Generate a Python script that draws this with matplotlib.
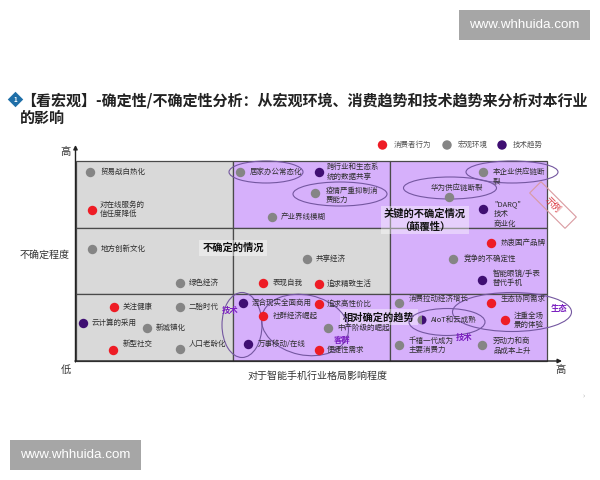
import matplotlib
matplotlib.use('Agg')
import matplotlib.pyplot as plt
from matplotlib.patches import Rectangle, Ellipse, Wedge
import matplotlib.transforms as mtrans

plt.rcParams['font.family'] = ['Noto Sans CJK SC', 'DejaVu Sans']

# labels, one per point, with \n where the reference wraps
labels = ['贸易战白热化', '对在线服务的\n信任度降低', '地方创新文化', '绿色经济', '关注健康', '二胎时代',
          '云计算的采用', '新城镇化', '新型社交', '人口老龄化',
          '居家办公常态化', '跨行业和生态系\n统的数据共享', '疫情严重抑制消\n费能力', '产业界线模糊', '共享经济',
          '表现自我', '追求精致生活', '混合现实全面商用', '追求高性价比', '社群经济崛起', '中产阶级的崛起',
          '万事移动/在线', '便捷性需求',
          '本企业供应链断\n裂', '华为供应链断裂', '"DARQ"\n技术\n商业化', '热衷国产品牌', '竞争的不确定性',
          '智能眼镜/手表\n替代手机', '消费拉动经济增长', '生态协同需求', 'AIoT和云成熟', '注重全场\n景的体验',
          '千禧一代成为\n主要消费力', '劳动力和商\n品成本上升']
# point positions
point_x = [90, 91.5, 91.5, 180, 113.5, 180, 83, 147, 113, 180,
           240, 318.5, 315, 271.5, 307, 263, 318.5, 243, 318.5, 263, 328, 248, 318.5,
           482.5, 449, 482.5, 491, 453, 482, 399, 491, 422, 505, 399, 482]
point_y = [172, 210, 249, 283, 307, 307, 323, 328, 350, 349,
           172, 172, 193, 217, 259, 283, 284, 303, 304, 316, 328, 344, 350,
           172, 197, 209, 243, 259, 280, 303, 303, 320, 320, 345, 345]
# r = consumer, g = macro, p = tech, m = half macro half tech
kinds = ['g', 'r', 'g', 'g', 'r', 'g', 'p', 'g', 'r', 'g',
         'g', 'p', 'g', 'g', 'g', 'r', 'r', 'p', 'r', 'r', 'g', 'p', 'r',
         'g', 'g', 'p', 'r', 'g', 'p', 'g', 'r', 'm', 'r', 'g', 'g']
# label anchor: left edge and vertical centre of the text block
label_x = [100, 100, 100.5, 189, 123, 189, 92, 156, 123, 189,
           250, 327, 326, 281, 316, 273, 327, 252, 327, 273, 337, 258, 327,
           493, 431, 494, 501, 464, 493, 409, 501, 431, 514, 409, 493]
label_y = [172, 209.5, 249, 283, 307, 307, 323, 328, 344, 344,
           172, 171.5, 195.5, 217, 259, 283, 284, 303, 304, 316, 328, 344, 350,
           176.5, 188, 214, 243, 259, 278.5, 299, 299, 320, 320.5, 345.5, 346]

legend_names = ['消费者行为', '宏观环境', '技术趋势']
legend_x = [382.5, 447, 502]
colors = {'r': '#ee1c25', 'g': '#858585', 'p': '#3f0f72'}

col_edges = [75.5, 233, 390, 547]
row_edges = [161, 228, 294, 361]
# cell fill: rows from top, columns from left
cell_kind = [['g', 'p', 'p'], ['g', 'g', 'p'], ['g', 'p', 'p']]
cell_colors = {'g': '#d9d9d9', 'p': '#d6b0fb'}

# center x, center y, width, height, angle
ellipses = [(266, 172, 74, 22, 0), (340, 194, 94, 24, 0), (512, 172, 92, 22, 0), (450, 188, 93, 22, 0),
            (242, 325, 40, 65, 0), (305, 325, 88, 60, 12), (447, 322, 76, 27, 0), (512, 312, 119, 39, 0)]
tag_names = ['技术', '客群', '技术', '生态']
tag_x = [230, 342, 464, 559]
tag_y = [310, 340, 337, 309]

fig = plt.figure(figsize=(6, 4.8), dpi=100)
ax = fig.add_axes([0, 0, 1, 1])
ax.set_xlim(0, 600)
ax.set_ylim(480, 0)
ax.axis('off')

for r in range(3):
    for c in range(3):
        ax.add_patch(Rectangle((col_edges[c], row_edges[r]), col_edges[c + 1] - col_edges[c],
                               row_edges[r + 1] - row_edges[r], fc=cell_colors[cell_kind[r][c]],
                               ec='#4a4a4a', lw=0.9, zorder=1))

# axes arrows
ax.annotate('', xy=(75.5, 145), xytext=(75.5, 362), zorder=2,
            arrowprops=dict(arrowstyle='-|>', color='#222222', lw=1, mutation_scale=6, shrinkA=0, shrinkB=0))
ax.annotate('', xy=(562, 361), xytext=(75, 361), zorder=2,
            arrowprops=dict(arrowstyle='-|>', color='#222222', lw=1, mutation_scale=6, shrinkA=0, shrinkB=0))

# quadrant captions on pale boxes, under the points and labels
captions = ['不确定的情况', '关键的不确定情况\n（颠覆性）', '相对确定的趋势']
caption_x = [233, 425, 379]
caption_y = [248, 220, 317]
for t, x, y in zip(captions, caption_x, caption_y):
    ax.text(x, y, t, fontsize=7.4, weight='bold', color='#111111', ha='center', va='center', linespacing=1.3,
            zorder=3.5, bbox=dict(fc='white', ec='none', alpha=0.4, pad=2))

for cx, cy, w, h, ang in ellipses:
    ax.add_patch(Ellipse((cx, cy), w, h, angle=ang, fill=False, ec='#7457a0', lw=0.8, zorder=3.7))

for x, y, k in zip(point_x, point_y, kinds):
    if k == 'm':
        ax.add_patch(Wedge((x, y), 4.5, 90, 270, fc=colors['g'], ec='none', zorder=4))
        ax.add_patch(Wedge((x, y), 4.5, -90, 90, fc=colors['p'], ec='none', zorder=4))
    else:
        ax.scatter([x], [y], s=46, color=colors[k], linewidths=0, zorder=4)

for t, x, y in zip(labels, label_x, label_y):
    ax.text(x, y, t, fontsize=5.4, color='#2e2e2e', ha='left', va='center', linespacing=1.3, zorder=5)

for t, x, y in zip(tag_names, tag_x, tag_y):
    ax.text(x, y, t, fontsize=6, weight='bold', color='#7a1fc0', ha='center', va='center', zorder=6)

# legend row
ax.scatter(legend_x, [145] * 3, s=46, color=[colors['r'], colors['g'], colors['p']], linewidths=0, zorder=4)
for t, x in zip(legend_names, legend_x):
    ax.text(x + 11, 145, t, fontsize=5.4, color='#555555', ha='left', va='center')

# axis words
ax.text(66, 152, '高', fontsize=7.4, color='#333333', ha='center', va='center')
ax.text(66, 370, '低', fontsize=7.4, color='#333333', ha='center', va='center')
ax.text(561, 370, '高', fontsize=7.4, color='#333333', ha='center', va='center')
ax.text(45, 255, '不确定程度', fontsize=7.2, color='#333333', ha='center', va='center')
ax.text(318, 376, '对于智能手机行业格局影响程度', fontsize=7.2, color='#333333', ha='center', va='center')

# title with bullet
ax.scatter([15], [99], s=62, marker='D', color='#1f6fa8', linewidths=0, zorder=4)
ax.text(15, 99, '1', fontsize=4.6, weight='bold', color='white', ha='center', va='center', zorder=5)
ax.text(21, 100, '【看宏观】-确定性/不确定性分析：从宏观环境、消费趋势和技术趋势来分析对本行业',
        fontsize=10.85, weight='bold', color='#222222', ha='left', va='center')
ax.text(20, 117.5, '的影响', fontsize=10.85, weight='bold', color='#222222', ha='left', va='center')

# stamp
stamp = Rectangle((553 - 25, 205 - 8), 50, 16, fill=False, ec='#d99aa0', lw=0.8, zorder=6,
                  transform=mtrans.Affine2D().rotate_deg_around(553, 205, 45) + ax.transData)
ax.add_patch(stamp)
ax.text(553, 205, '示例', fontsize=6.5, color='#d9343c', rotation=-45, ha='center', va='center',
        rotation_mode='anchor', zorder=6)

# watermark boxes
ax.add_patch(Rectangle((459, 10), 131, 30, fc='#a6a6a6', ec='none'))
ax.text(524.5, 25.5, 'www.whhuida.com', fontsize=9.6, family='Liberation Sans', color='white', ha='center', va='center')
ax.add_patch(Rectangle((10, 440), 131, 30, fc='#a6a6a6', ec='none'))
ax.text(75.5, 455.5, 'www.whhuida.com', fontsize=9.6, family='Liberation Sans', color='white', ha='center', va='center')
ax.text(584, 396, '›', fontsize=5, color='#aaaaaa', ha='center', va='center')

fig.savefig('out.png', dpi=100, facecolor='white')
